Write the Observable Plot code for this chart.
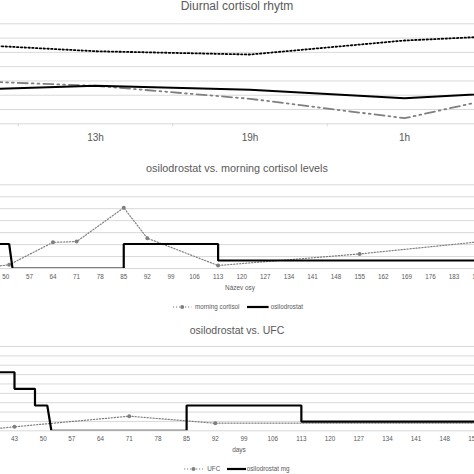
<!DOCTYPE html>
<html>
<head>
<meta charset="utf-8">
<script src="https://cdn.jsdelivr.net/npm/d3@7"></script>
<script src="https://cdn.jsdelivr.net/npm/@observablehq/plot@0.6"></script>
<style>
  html, body { margin: 0; padding: 0; background: #fff; }
  #root { position: relative; width: 474px; height: 474px; overflow: hidden; background: #fff; }
  .t { position: absolute; left: 0; width: 474px; text-align: center; font-family: "Liberation Sans", Arial, sans-serif; color: #595959; line-height: 1; white-space: nowrap; }
  .lg { position: absolute; font-family: "Liberation Sans", Arial, sans-serif; color: #595959; line-height: 1; white-space: nowrap; font-size: 6.3px; }
  .sym { position: absolute; overflow: visible; }
  svg.plot-svg { position: absolute; left: 0; }
</style>
</head>
<body>
<div id="root"></div>
<script>
// ---------- Panel 1: Diurnal cortisol rhytm (values in gridline units) ----------
const hours = ["7h", "13h", "19h", "1h", "7h"];
const hourIdx = [0, 1, 2, 3, 4];
const diurnalDotted = [5.65, 5.08, 4.85, 5.83, 6.34];
const diurnalSolid = [2.32, 2.66, 2.38, 1.79, 2.36];
const diurnalDashDot = [3.07, 2.66, 1.75, 0.39, 2.77];
const grid1 = [0, 1, 2, 3, 4, 5, 6, 7];
const hourBounds = [0.5, 1.5, 2.5, 3.5];

// ---------- Panel 2: osilodrostat vs. morning cortisol levels ----------
const cortDays = [43, 51, 64, 71, 85, 92, 113, 155, 197];
const cortVals = [0.05, 0.31, 2.19, 2.25, 5.08, 2.53, 0.25, 1.22, 2.42];
const osiDays2 = [45, 51, 52, 85, 85, 113, 113, 197];
const osiDose2 = [2.05, 2.05, 0, 0, 2.05, 2.05, 0.67, 0.67];
const grid2 = [0, 1, 2, 3, 4, 5, 6, 7];
const dayTicks2 = d3.range(50, 191, 7);

// ---------- Panel 3: osilodrostat vs. UFC ----------
const ufcDays = [36, 43, 71, 92, 160];
const ufcVals = [0.12, 0.43, 1.56, 0.81, 0.81];
const osiDays3 = [38, 43, 43, 48, 48, 51, 52, 85, 85, 113, 113, 160];
const osiMg3 = [6.25, 6.25, 4.48, 4.48, 2.7, 2.7, 0, 0, 2.7, 2.7, 0.99, 0.99];
const grid3 = [0, 1, 2, 3, 4, 5, 6, 7, 8, 9];
const dayTicks3 = d3.range(43, 156, 7);

const root = document.getElementById("root");
const GRID = "#d9d9d9";
const TXT = "#595959";
const GRAY = "#7f7f7f";

function place(svg, top) {
  svg.classList.add("plot-svg");
  svg.style.top = top + "px";
  svg.style.maxWidth = "none";
  root.appendChild(svg);
}

// Panel 1
place(Plot.plot({
  width: 474, height: 145,
  marginLeft: 0, marginRight: 0, marginTop: 23.3, marginBottom: 21.7,
  style: { fontFamily: "Liberation Sans, Arial, sans-serif", fontSize: "10px", color: TXT, background: "transparent" },
  x: { type: "linear", domain: [0.385, 3.453], ticks: [1, 2, 3], tickFormat: d => hours[d], tickSize: 0, tickPadding: 9.7, label: null },
  y: { domain: [0, 7], axis: null },
  marks: [
    Plot.ruleY(grid1, { stroke: GRID, strokeWidth: 1 }),
    Plot.ruleX(hourBounds, { y1: 0, y2: -0.21, stroke: GRID, strokeWidth: 1 }),
    Plot.line(hourIdx, { x: hourIdx, y: diurnalDashDot, stroke: GRAY, strokeWidth: 1.8, strokeDasharray: "10,4,1.8,4,1.8,4", clip: true }),
    Plot.line(hourIdx, { x: hourIdx, y: diurnalSolid, stroke: "#000", strokeWidth: 2, clip: true }),
    Plot.line(hourIdx, { x: hourIdx, y: diurnalDotted, stroke: "#000", strokeWidth: 1.8, strokeDasharray: "1.5,2.3", clip: true })
  ]
}), 0);

// Panel 2
place(Plot.plot({
  width: 474, height: 108,
  marginLeft: 0, marginRight: 0, marginTop: 8.3, marginBottom: 16,
  style: { fontFamily: "Liberation Sans, Arial, sans-serif", fontSize: "6.3px", color: TXT, background: "transparent" },
  x: { type: "linear", domain: [48.427, 189.08], ticks: dayTicks2, tickFormat: d => String(d), tickSize: 0, tickPadding: 6.5, label: null },
  y: { domain: [0, 7], axis: null },
  marks: [
    Plot.ruleY(grid2, { stroke: GRID, strokeWidth: 1 }),
    Plot.line(cortDays, { x: cortDays, y: cortVals, stroke: GRAY, strokeWidth: 1.2, strokeDasharray: "1.2,1.8", clip: true }),
    Plot.dot(cortDays, { x: cortDays, y: cortVals, r: 2, fill: GRAY, clip: true }),
    Plot.line(osiDays2, { x: osiDays2, y: osiDose2, stroke: "#000", strokeWidth: 2.2, strokeLinejoin: "miter", clip: true })
  ]
}), 176);

// Panel 3
place(Plot.plot({
  width: 474, height: 106,
  marginLeft: 0, marginRight: 0, marginTop: 6, marginBottom: 15.7,
  style: { fontFamily: "Liberation Sans, Arial, sans-serif", fontSize: "6.3px", color: TXT, background: "transparent" },
  x: { type: "linear", domain: [39.584, 155.25], ticks: dayTicks3, tickFormat: d => String(d), tickSize: 0, tickPadding: 5.8, label: null },
  y: { domain: [0, 9], axis: null },
  marks: [
    Plot.ruleY(grid3, { stroke: GRID, strokeWidth: 1 }),
    Plot.line(ufcDays, { x: ufcDays, y: ufcVals, stroke: GRAY, strokeWidth: 1.2, strokeDasharray: "1.2,1.8", clip: true }),
    Plot.dot(ufcDays, { x: ufcDays, y: ufcVals, r: 2, fill: GRAY, clip: true }),
    Plot.line(osiDays3, { x: osiDays3, y: osiMg3, stroke: "#000", strokeWidth: 2.2, strokeLinejoin: "miter", clip: true })
  ]
}), 340);

// Titles and axis titles
function text(str, top, size, left) {
  const d = document.createElement("div");
  d.className = "t";
  d.textContent = str;
  d.style.top = top + "px";
  d.style.fontSize = size + "px";
  if (left !== undefined) d.style.left = left + "px";
  root.appendChild(d);
}
text("Diurnal cortisol rhytm", 0, 12);
text("osilodrostat vs. morning cortisol levels", 162.9, 10.8);
text("Název osy", 285.1, 6.4, 3);
text("osilodrostat vs. UFC", 325.1, 10.5);
text("days", 446.8, 6.5, 2);

// Legends
const NS = "http://www.w3.org/2000/svg";
function sym(left, top, w, dotted) {
  const s = document.createElementNS(NS, "svg");
  s.setAttribute("class", "sym");
  s.setAttribute("width", w);
  s.setAttribute("height", 6);
  s.style.left = left + "px";
  s.style.top = (top - 3) + "px";
  const l = document.createElementNS(NS, "line");
  l.setAttribute("x1", 0); l.setAttribute("x2", w);
  l.setAttribute("y1", 3); l.setAttribute("y2", 3);
  if (dotted) {
    l.setAttribute("stroke", GRAY);
    l.setAttribute("stroke-width", 1.2);
    l.setAttribute("stroke-dasharray", "1.2,1.8");
    s.appendChild(l);
    const c = document.createElementNS(NS, "circle");
    c.setAttribute("cx", w / 2); c.setAttribute("cy", 3); c.setAttribute("r", 2);
    c.setAttribute("fill", GRAY);
    s.appendChild(c);
  } else {
    l.setAttribute("stroke", "#000");
    l.setAttribute("stroke-width", 2.2);
    s.appendChild(l);
  }
  root.appendChild(s);
}
function lgText(str, left, top) {
  const d = document.createElement("div");
  d.className = "lg";
  d.textContent = str;
  d.style.left = left + "px";
  d.style.top = top + "px";
  root.appendChild(d);
}
sym(173.3, 307.3, 18.4, true);
lgText("morning cortisol", 195, 304.2);
sym(246.7, 307.3, 21.6, false);
lgText("osilodrostat", 270.7, 304.2);

sym(184.3, 469.3, 19, true);
lgText("UFC", 207.3, 466.2);
sym(226.7, 469.3, 19, false);
lgText("osilodrostat mg", 246.7, 466.2);
</script>
</body>
</html>
